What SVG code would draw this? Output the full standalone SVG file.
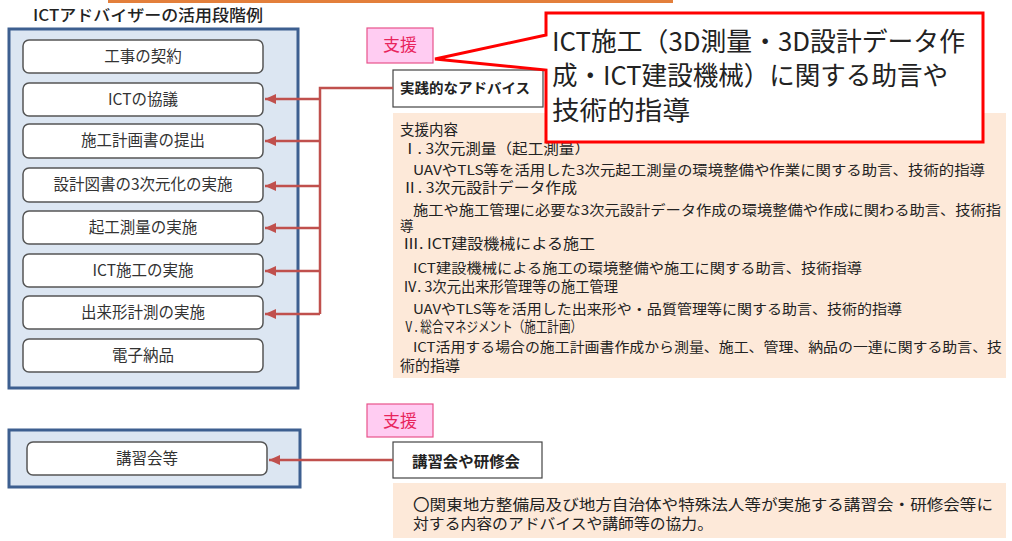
<svg xmlns="http://www.w3.org/2000/svg" width="1012" height="541" viewBox="0 0 1012 541">
<style>
text{font-family:"Noto Sans CJK JP","Noto Sans",sans-serif;fill:#222}
.panel{fill:#dce6f2;stroke:#3d5f90;stroke-width:3}
.stage{fill:#fff;stroke:#555;stroke-width:1.5}
.lbl{font-size:15.5px;text-anchor:middle;fill:#333}
.pink{fill:#ffccf2;stroke:#e8538a;stroke-width:1.2}
.pinkt{font-size:17px;fill:#e8245c;text-anchor:middle}
.peach{fill:#fde9d9}
.hd{font-size:14.5px}
.tx{font-size:13.5px}
.conn{fill:none;stroke:#c0504d;stroke-width:2.5}
</style>
<defs>
<marker id="ah" markerUnits="userSpaceOnUse" markerWidth="12" markerHeight="10" refX="11" refY="5" orient="auto">
<path d="M0,0 L11,5 L0,10 z" fill="#c0504d"/>
</marker>
</defs>
<rect x="108" y="0" width="565" height="3" fill="#e37f3b"/>
<text x="33" y="21" font-size="15.5" font-weight="500" textLength="230" lengthAdjust="spacingAndGlyphs">ICTアドバイザーの活用段階例</text>

<g id="panel-stages">
<rect class="panel" x="9" y="29" width="289" height="359"/>
</g>
<g id="stage-1"><rect class="stage" x="23" y="40" width="240" height="33" rx="6"/><text class="lbl" x="143" y="62">工事の契約</text></g>
<g id="stage-2"><rect class="stage" x="23" y="83" width="240" height="33" rx="6"/><text class="lbl" x="143" y="105">ICTの協議</text></g>
<g id="stage-3"><rect class="stage" x="23" y="124" width="240" height="34" rx="6"/><text class="lbl" x="143" y="146">施工計画書の提出</text></g>
<g id="stage-4"><rect class="stage" x="23" y="168" width="240" height="34" rx="6"/><text class="lbl" x="143" y="190">設計図書の3次元化の実施</text></g>
<g id="stage-5"><rect class="stage" x="23" y="211" width="240" height="33" rx="6"/><text class="lbl" x="143" y="233">起工測量の実施</text></g>
<g id="stage-6"><rect class="stage" x="23" y="254" width="240" height="33" rx="6"/><text class="lbl" x="143" y="276">ICT施工の実施</text></g>
<g id="stage-7"><rect class="stage" x="23" y="296" width="240" height="33" rx="6"/><text class="lbl" x="143" y="318">出来形計測の実施</text></g>
<g id="stage-8"><rect class="stage" x="23" y="339" width="240" height="33" rx="6"/><text class="lbl" x="143" y="361">電子納品</text></g>

<g id="panel-training">
<rect class="panel" x="9" y="430" width="291" height="57"/>
</g>
<g id="training"><rect class="stage" x="27" y="442" width="240" height="33" rx="6"/><text class="lbl" x="147" y="464">講習会等</text></g>

<g id="support-content">
<rect class="peach" x="393" y="113" width="613" height="265"/>
<text class="hd" x="400" y="135" textLength="58">支援内容</text>
<text class="hd" x="402" y="154" textLength="188" lengthAdjust="spacingAndGlyphs">Ⅰ. 3次元測量（起工測量）</text>
<text class="tx" x="413" y="175" textLength="572" lengthAdjust="spacingAndGlyphs">UAVやTLS等を活用した3次元起工測量の環境整備や作業に関する助言、技術的指導</text>
<text class="hd" x="402" y="193" textLength="175" lengthAdjust="spacingAndGlyphs">Ⅱ. 3次元設計データ作成</text>
<text class="tx" x="413" y="215" textLength="588" lengthAdjust="spacingAndGlyphs">施工や施工管理に必要な3次元設計データ作成の環境整備や作成に関わる助言、技術指</text>
<text class="tx" x="400" y="231">導</text>
<text class="hd" x="403" y="249" textLength="192" lengthAdjust="spacingAndGlyphs">Ⅲ. ICT建設機械による施工</text>
<text class="tx" x="413" y="273" textLength="449" lengthAdjust="spacingAndGlyphs">ICT建設機械による施工の環境整備や施工に関する助言、技術指導</text>
<text class="hd" x="403" y="292" textLength="215" lengthAdjust="spacingAndGlyphs">Ⅳ. 3次元出来形管理等の施工管理</text>
<text class="tx" x="413" y="314" textLength="489" lengthAdjust="spacingAndGlyphs">UAVやTLS等を活用した出来形や・品質管理等に関する助言、技術的指導</text>
<text class="hd" x="403" y="332" textLength="179" lengthAdjust="spacingAndGlyphs">Ⅴ. 総合マネジメント（施工計画）</text>
<text class="tx" x="413" y="352" textLength="589" lengthAdjust="spacingAndGlyphs">ICT活用する場合の施工計画書作成から測量、施工、管理、納品の一連に関する助言、技</text>
<text x="400" y="371" font-size="15">術的指導</text>
</g>

<g id="advice">
<rect x="393" y="70" width="150" height="37" fill="#fff" stroke="#444" stroke-width="1.2"/>
<text x="400" y="93" font-size="14" font-weight="bold" textLength="130" lengthAdjust="spacingAndGlyphs">実践的なアドバイス</text>
</g>

<g id="support-1"><rect class="pink" x="367" y="28" width="66" height="35"/><text class="pinkt" x="400" y="51">支援</text></g>

<g id="callout">
<path d="M546,13 H983 V142 H546 V70 L435,59 L546,35 Z" fill="#fff" stroke="#ff0000" stroke-width="3" stroke-linejoin="miter"/>
<text x="552" y="51" font-size="26" textLength="413" lengthAdjust="spacingAndGlyphs">ICT施工（3D測量・3D設計データ作</text>
<text x="552" y="85" font-size="26" textLength="396" lengthAdjust="spacingAndGlyphs">成・ICT建設機械）に関する助言や</text>
<text x="552" y="120" font-size="26" textLength="138" lengthAdjust="spacingAndGlyphs">技術的指導</text>
</g>

<g id="support-2"><rect class="pink" x="367" y="404" width="66" height="33"/><text class="pinkt" x="400" y="427">支援</text></g>

<g id="seminar">
<rect x="393" y="442" width="149" height="36" fill="#fff" stroke="#444" stroke-width="1.2"/>
<text x="412" y="467" font-size="15" font-weight="bold" textLength="108" lengthAdjust="spacingAndGlyphs">講習会や研修会</text>
</g>

<g id="seminar-content">
<rect class="peach" x="393" y="483" width="613" height="55"/>
<text x="413" y="510" font-size="15" textLength="580" lengthAdjust="spacingAndGlyphs">〇関東地方整備局及び地方自治体や特殊法人等が実施する講習会・研修会等に</text>
<text x="413" y="529" font-size="15" textLength="300" lengthAdjust="spacingAndGlyphs">対する内容のアドバイスや講師等の協力。</text>
</g>

<g id="connectors">
<path class="conn" d="M393,88 H320 V314"/>
<path class="conn" d="M320,99 H265" marker-end="url(#ah)"/>
<path class="conn" d="M320,141 H265" marker-end="url(#ah)"/>
<path class="conn" d="M320,186 H265" marker-end="url(#ah)"/>
<path class="conn" d="M320,228 H265" marker-end="url(#ah)"/>
<path class="conn" d="M320,271 H265" marker-end="url(#ah)"/>
<path class="conn" d="M320,314 H265" marker-end="url(#ah)"/>
<path class="conn" d="M393,460 H269" marker-end="url(#ah)"/>
</g>
</svg>
